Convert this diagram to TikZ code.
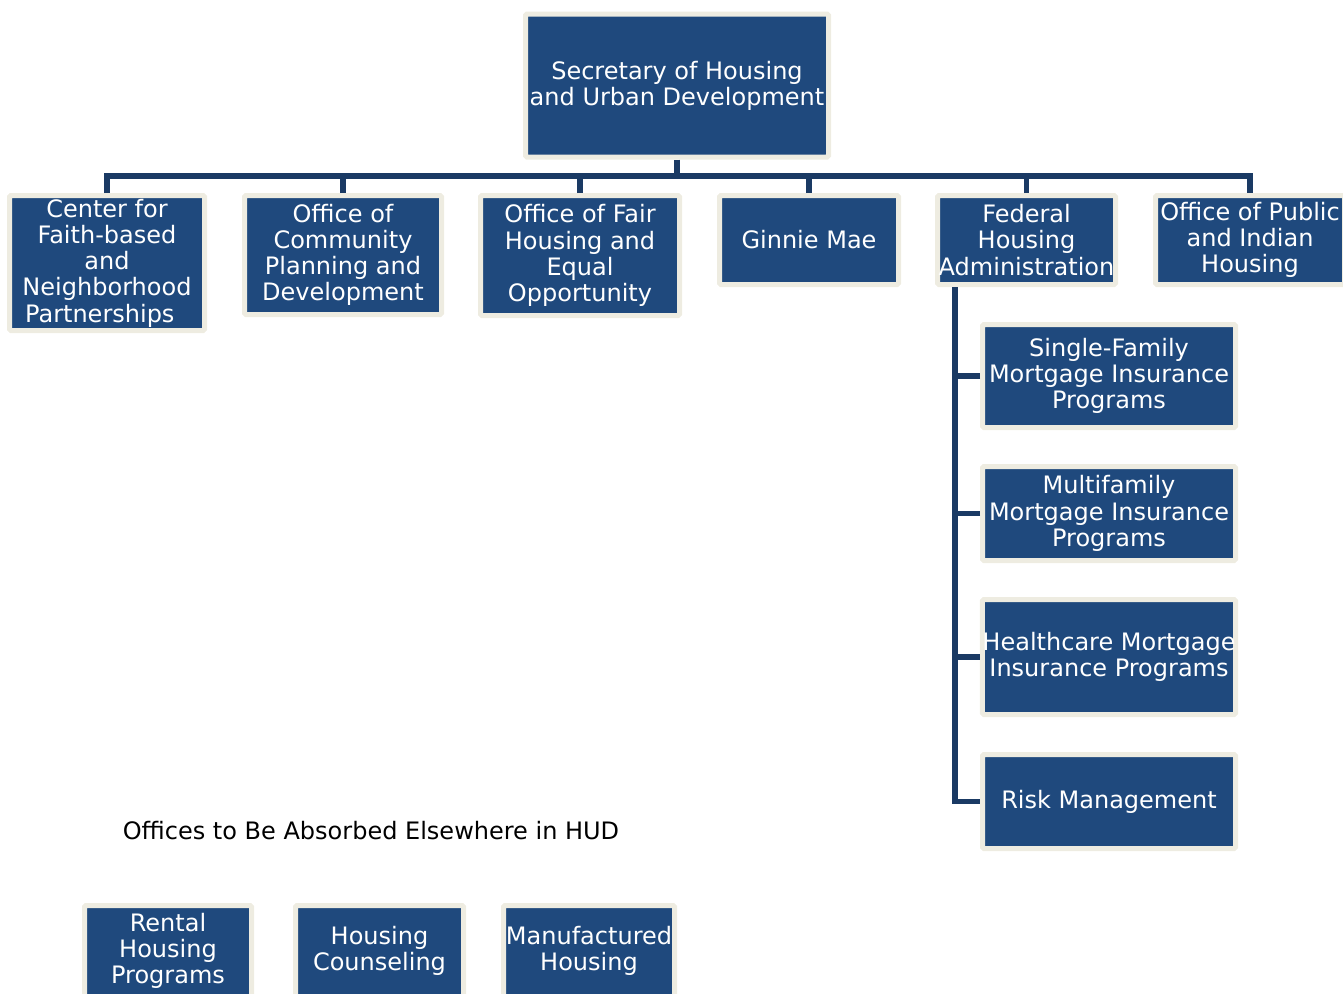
\documentclass[tikz,border=0pt]{standalone}
\usepackage{fontspec}
\setmainfont{DejaVu Sans}
\definecolor{hudblue}{RGB}{31,73,125}
\definecolor{hudbeige}{RGB}{238,236,225}
\definecolor{hudline}{RGB}{26,58,100}

\begin{document}
\begin{tikzpicture}[x=1pt, y=-1pt,
  office/.style={draw=hudbeige, line width=5pt, fill=hudblue, text=white,
    align=center, inner sep=0pt, rounded corners=1.5pt,
    font=\fontsize{24}{26.2}\selectfont},
  link/.style={draw=hudline, line width=5.5pt, line join=miter}]
  \useasboundingbox (0,0) rectangle (1343,993);
  \clip (0,0) rectangle (1343,993);
  % top of the chart
  \node[office, minimum width=303, minimum height=143] (sec) at (677,85.5)
    {Secretary of Housing\\and Urban Development};
  % first row
  \node[office, minimum width=195, minimum height=135] (cfnp) at (107,263)
    {Center for\\Faith-based\\and\\Neighborhood\\Partnerships\hspace*{0.6em}};
  \node[office, minimum width=197, minimum height=119] (ocpd) at (343,255)
    {Office of\\Community\\Planning and\\Development};
  \node[office, minimum width=199, minimum height=120] (ofheo) at (580,255.5)
    {Office of Fair\\Housing and\\Equal\\Opportunity};
  \node[office, minimum width=179, minimum height=89] (gnma) at (809,240)
    {Ginnie Mae};
  \node[office, minimum width=178, minimum height=89] (fha) at (1026.5,240)
    {Federal\\Housing\\Administration};
  \node[office, minimum width=189, minimum height=89] (opih) at (1250,240)
    {Office of Public\\and Indian\\Housing};
  % FHA programs
  \node[office, minimum width=253, minimum height=103] (sfmi) at (1109,376)
    {Single-Family\\Mortgage Insurance\\Programs};
  \node[office, minimum width=253, minimum height=94] (mfmi) at (1109,513.5)
    {Multifamily\\Mortgage Insurance\\Programs};
  \node[office, minimum width=253, minimum height=115] (hmip) at (1109,657)
    {Healthcare Mortgage\\Insurance Programs};
  \node[office, minimum width=253, minimum height=94] (rm) at (1109,801.5)
    {Risk Management};
  % offices absorbed elsewhere
  \node[font=\fontsize{24}{26.2}\selectfont, inner sep=0pt] (absorbed) at (371,831)
    {Offices to Be Absorbed Elsewhere in HUD};
  \node[office, minimum width=167, minimum height=91] (rhp) at (168,951)
    {Rental\\Housing\\Programs};
  \node[office, minimum width=168, minimum height=91] (hc) at (379.5,951)
    {Housing\\Counseling};
  \node[office, minimum width=171, minimum height=91] (mh) at (589,951)
    {Manufactured\\Housing};
  % connectors
  \coordinate (bus) at (677,176);
  \coordinate (trunk) at (955,287);
  \draw[link] (sec.south) -- (bus);
  \draw[link] (cfnp.north) -- (cfnp.north |- bus) -- (opih.north |- bus) -- (opih.north);
  \foreach \n in {ocpd,ofheo,gnma,fha}
    \draw[link] (\n.north) -- (\n.north |- bus);
  \draw[link] (trunk) |- (rm.west);
  \foreach \n in {sfmi,mfmi,hmip}
    \draw[link] (\n.west) -- (\n.west -| trunk);
\end{tikzpicture}
\end{document}
